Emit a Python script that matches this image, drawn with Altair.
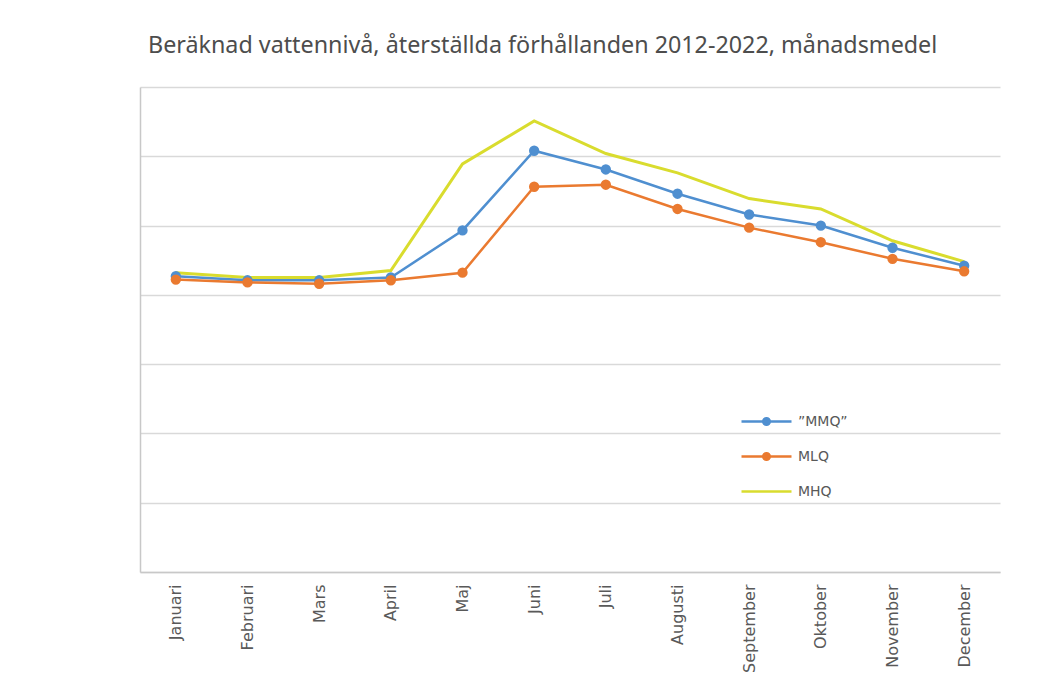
import altair as alt
import pandas as pd

# Monthly mean water level under restored conditions, 2012-2022 (relative units)
months = ["Januari", "Februari", "Mars", "April", "Maj", "Juni",
          "Juli", "Augusti", "September", "Oktober", "November", "December"]
mmq = [4.27, 4.21, 4.21, 4.25, 4.93, 6.08, 5.81, 5.46, 5.16, 5.00, 4.68, 4.42]
mlq = [4.22, 4.18, 4.16, 4.21, 4.32, 5.56, 5.59, 5.24, 4.97, 4.76, 4.52, 4.34]
mhq = [4.32, 4.25, 4.25, 4.35, 5.89, 6.51, 6.04, 5.76, 5.39, 5.24, 4.78, 4.48]

series_names = ["\u201dMMQ\u201d", "MLQ", "MHQ"]
series_colors = ["#4f8fd0", "#ea7a30", "#d9dc2e"]
series_values = {"\u201dMMQ\u201d": mmq, "MLQ": mlq, "MHQ": mhq}

rows = []
for name, vals in series_values.items():
    for m, v in zip(months, vals):
        rows.append({"Månad": m, "Serie": name, "Nivå": v})
df = pd.DataFrame(rows)

gray_text = "#595959"
grid_gray = "#d9d9d9"

# legend glyphs: a short line with a dot, or a plain line
line_circle = ("M-2.5,0L2.5,0M-0.33,0A0.33,0.33,0,1,0,0.33,0"
               "A0.33,0.33,0,1,0,-0.33,0Z")
line_only = "M-2.5,0L2.5,0"

legend = alt.Legend(
    title=None,
    orient="none",
    legendX=615,
    legendY=323,
    padding=0,
    symbolSize=400,
    symbolStrokeWidth=2.5,
    rowPadding=15,
    labelOffset=20,
    labelFont="DejaVu Sans",
    labelFontSize=14,
    labelColor=gray_text,
)

color_scale = alt.Scale(domain=series_names, range=series_colors)
stroke_enc = alt.Stroke("Serie:N", scale=color_scale, legend=legend)
fill_enc = alt.Fill("Serie:N", scale=color_scale, legend=legend)
shape_enc = alt.Shape(
    "Serie:N",
    scale=alt.Scale(domain=series_names,
                    range=[line_circle, line_circle, line_only]),
    legend=legend,
)

x = alt.X(
    "Månad:N",
    sort=months,
    scale=alt.Scale(type="point", padding=0.5),
    axis=alt.Axis(
        title=None, labelAngle=270, ticks=False, grid=False,
        labelPadding=12, labelFont="DejaVu Sans", labelFontSize=16,
        labelColor=gray_text, domainColor="#c8c8c8", domainWidth=1.5,
    ),
)
y = alt.Y(
    "Nivå:Q",
    scale=alt.Scale(domain=[0, 7], nice=False, zero=True),
    axis=alt.Axis(
        title=None, labels=False, ticks=False, values=list(range(0, 8)),
        grid=True, gridColor=grid_gray, gridWidth=1.5, orient="left",
        domain=True, domainColor="#c8c8c8", domainWidth=1.5,
    ),
)

base = alt.Chart(df)
layers = []
# draw the high-flow line first, low-flow line on top
for name in ["MHQ", "\u201dMMQ\u201d", "MLQ"]:
    sub = base.transform_filter(alt.datum.Serie == name)
    layers.append(
        sub.mark_line(strokeWidth=3 if name == "MHQ" else 2.5)
        .encode(x=x, y=y, stroke=stroke_enc)
    )
    if name != "MHQ":
        layers.append(
            sub.mark_point(filled=True, size=70, opacity=1, shape="circle")
            .encode(x=x, y=y, stroke=stroke_enc, fill=fill_enc)
        )

# empty layer that only carries the legend glyph shapes
layers.append(
    base.transform_filter(alt.datum.Serie == "-")
    .mark_point(filled=True)
    .encode(x=x, y=y, stroke=stroke_enc, fill=fill_enc, shape=shape_enc)
)

chart = alt.layer(*layers).properties(
    width=860,
    height=485,
    background="white",
    autosize=alt.AutoSizeParams(type="none"),
    padding={"left": 140, "top": 87, "right": 50, "bottom": 118},
    title=alt.TitleParams(
        "Beräknad vattennivå, återställda förhållanden 2012-2022, månadsmedel",
        anchor="start", dx=8, offset=11, baseline="alphabetic",
        font="Noto Sans", fontSize=23.3, fontWeight="normal", color="#4d4d4d",
    ),
).configure_view(stroke="transparent", strokeWidth=0)

chart.save("out.html", embed_options={"renderer": "svg", "actions": False})
